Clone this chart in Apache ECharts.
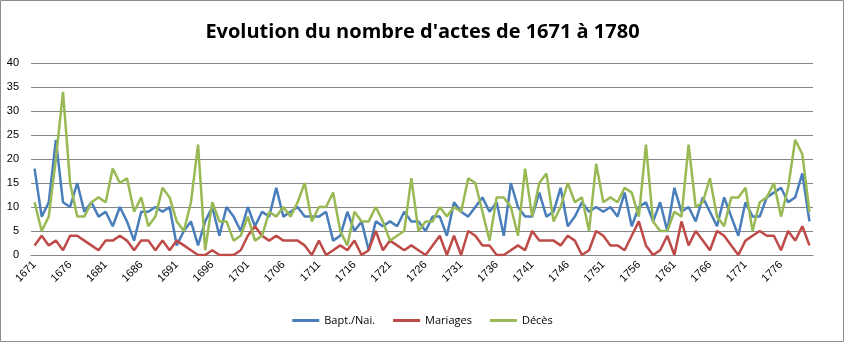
<!DOCTYPE html>
<html>
<head>
<meta charset="utf-8">
<script src="https://cdn.jsdelivr.net/npm/echarts@6/dist/echarts.min.js"></script>
<style>
html,body{margin:0;padding:0;background:#fff;}
#chart{width:845px;height:343px;}
</style>
</head>
<body>
<div id="chart"></div>
<script>
var years = [];
for (var y = 1671; y <= 1780; y++) years.push(String(y));

var baptNai = [18,8,11,24,11,10,15,9,11,8,9,6,10,7,3,9,9,10,9,10,
  2,5,7,2,7,10,4,10,8,5,10,6,9,8,14,8,9,10,8,8,
  8,9,3,4,9,5,7,1,7,6,7,6,9,7,7,5,8,8,4,11,
  9,8,10,12,9,11,4,15,10,8,8,13,8,9,14,6,8,11,9,10,
  9,10,8,13,6,10,11,7,11,5,14,9,10,7,12,9,6,12,8,4,
  11,8,8,12,13,14,11,12,17,7];

var mariages = [2,4,2,3,1,4,4,3,2,1,3,3,4,3,1,3,3,1,3,1,
  3,2,1,0,0,1,0,0,0,1,4,6,4,3,4,3,3,3,2,0,
  3,0,1,2,1,3,0,1,5,1,3,2,1,2,1,0,2,4,0,4,
  0,5,4,2,2,0,0,1,2,1,5,3,3,3,2,4,3,0,1,5,
  4,2,2,1,4,7,2,0,1,4,0,7,2,5,3,1,5,4,2,0,
  3,4,5,4,4,1,5,3,6,2];

var deces = [11,5,8,20,34,15,8,8,11,12,11,18,15,16,9,12,6,8,14,12,
  7,5,11,23,1,11,7,7,3,4,8,3,4,9,8,10,8,11,15,7,
  10,10,13,5,2,9,7,7,10,7,3,4,5,16,5,7,7,10,8,10,
  9,16,15,9,3,12,12,10,4,18,8,15,17,7,10,15,11,12,5,19,
  11,12,11,14,13,8,23,7,5,5,9,8,23,10,11,16,8,6,12,12,
  14,5,11,12,15,8,14,24,21,9];

var chart = echarts.init(document.getElementById('chart'));
var font = 'Open Sans, Noto Sans, sans-serif';
chart.setOption({
  animation: false,
  backgroundColor: '#ffffff',
  title: {
    text: "Evolution du nombre d'actes de 1671 à 1780",
    left: 'center',
    top: 17,
    textStyle: {fontFamily: font, fontWeight: 'bold', fontSize: 20, color: '#000'}
  },
  graphic: [{
    type: 'rect',
    shape: {x: 0.5, y: 0.5, width: 843, height: 341},
    style: {fill: 'none', stroke: '#8c8c8c', lineWidth: 1},
    silent: true
  }],
  legend: {
    bottom: 12,
    left: 'center',
    itemWidth: 27,
    itemHeight: 3,
    itemGap: 18,
    icon: 'rect',
    textStyle: {fontFamily: font, fontSize: 11, color: '#000'},
    data: ['Bapt./Nai.', 'Mariages', 'Décès']
  },
  grid: {left: 31, right: 32, top: 63, bottom: 88},
  xAxis: {
    type: 'category',
    data: years,
    axisLine: {lineStyle: {color: '#868686'}},
    axisTick: {show: false},
    axisLabel: {interval: 4, rotate: 45, fontSize: 11, color: '#000'}
  },
  yAxis: {
    type: 'value',
    min: 0, max: 40, interval: 5,
    axisLine: {show: false},
    axisTick: {show: false},
    splitLine: {lineStyle: {color: '#868686'}},
    axisLabel: {fontSize: 11, color: '#000', margin: 12}
  },
  series: [
    {name: 'Bapt./Nai.', type: 'line', data: baptNai, symbol: 'none', lineStyle: {width: 2.5, color: '#4A7EBB'}, itemStyle: {color: '#4A7EBB'}},
    {name: 'Mariages', type: 'line', data: mariages, symbol: 'none', lineStyle: {width: 2.5, color: '#BE4B48'}, itemStyle: {color: '#BE4B48'}},
    {name: 'Décès', type: 'line', data: deces, symbol: 'none', lineStyle: {width: 2.5, color: '#98B954'}, itemStyle: {color: '#98B954'}}
  ]
});
chart.setOption({xAxis: {axisLabel: {rotate: 45}}});
</script>
</body>
</html>
